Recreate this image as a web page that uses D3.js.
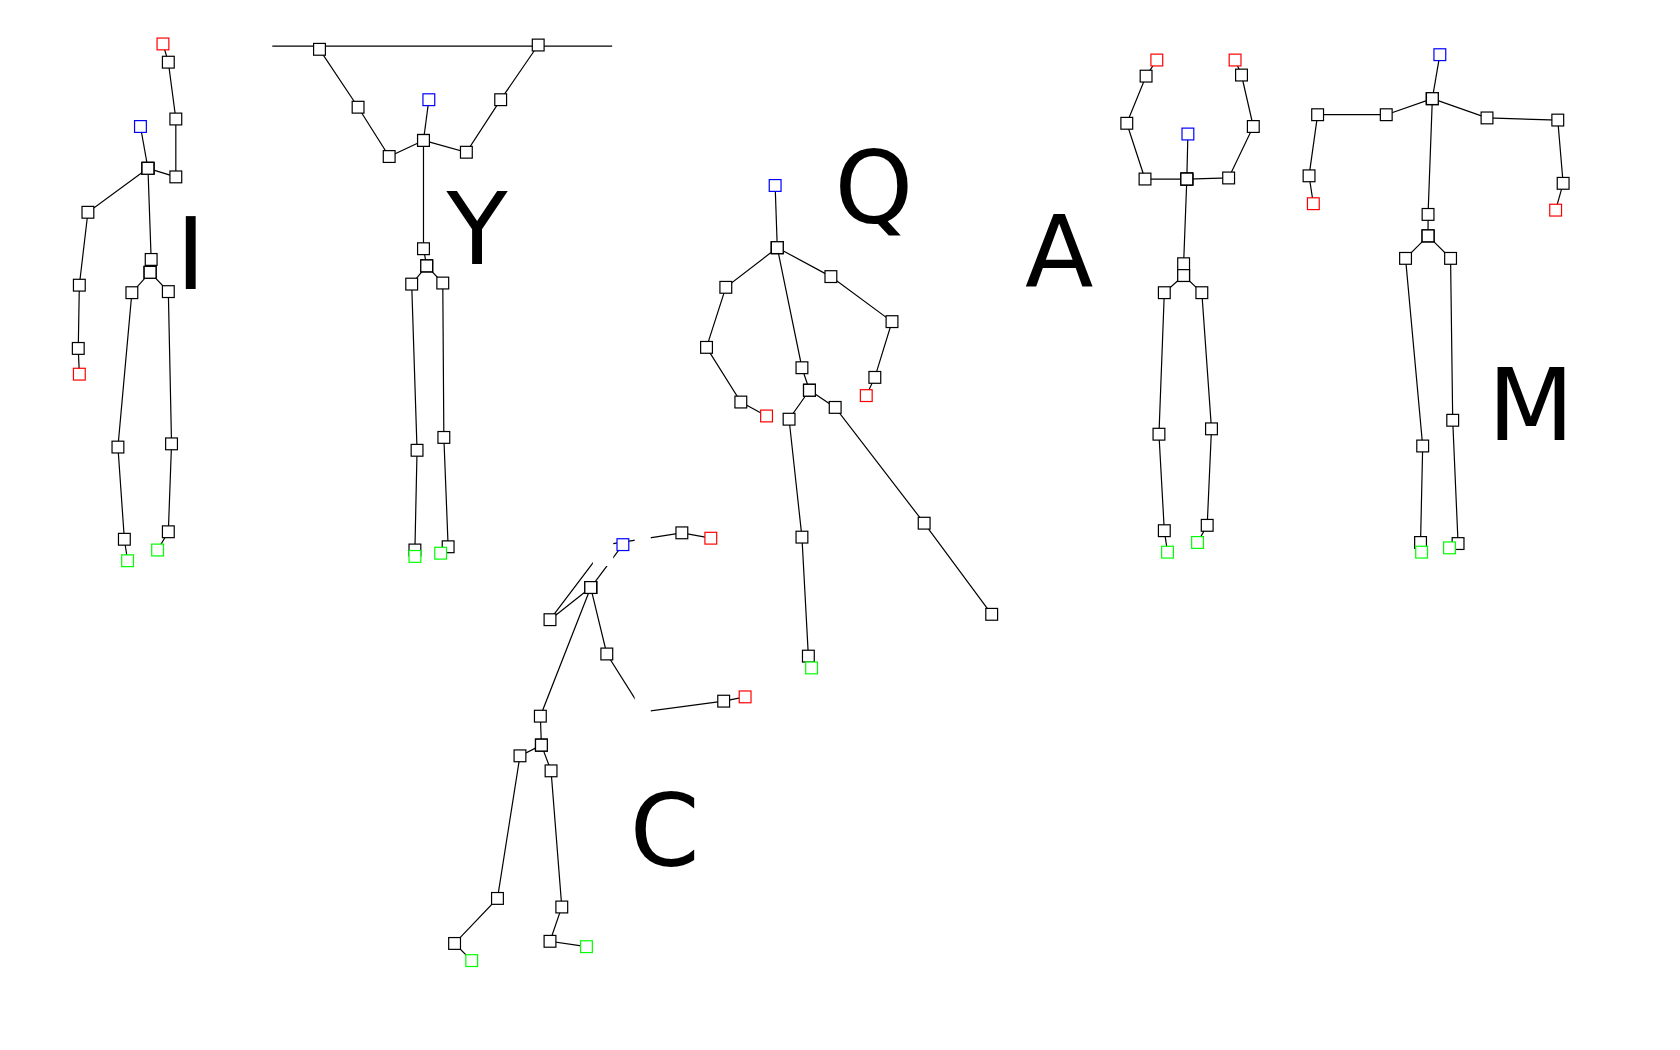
<!DOCTYPE html>
<html>
<head>
<meta charset="utf-8">
<script src="https://cdn.jsdelivr.net/npm/d3@7"></script>
<style>
  html, body { margin: 0; padding: 0; background: #fff; }
  svg { display: block; }
</style>
</head>
<body>
<svg id="chart"></svg>
<script>
// joints in picture units: [x, y, kind]  h=head, r=hand, g=foot, n=joint, x=hidden
const figI = [
  [[131,118,"h"],[138,157,"n"]],
  [[138,157,"n"],[82,198,"n"],[74,266,"n"],[73,325,"n"],[74,349,"r"]],
  [[138,157,"n"],[164,165,"n"],[164,111,"n"],[157,58,"n"],[152,41,"r"]],
  [[138,157,"n"],[141,242,"n"],[140,254,"n"]],
  [[140,254,"n"],[123,273,"n"],[110,417,"n"],[116,503,"n"],[119,523,"g"]],
  [[140,254,"n"],[157,272,"n"],[160,414,"n"],[157,496,"n"],[147,513,"g"]]
];
const figY = [
  [[400,93,"h"],[395,131,"n"]],
  [[395,131,"n"],[363,146,"n"],[334,100,"n"],[298,46,"n"]],
  [[395,131,"n"],[435,142,"n"],[467,93,"n"],[502,42,"n"]],
  [[395,131,"n"],[395,232,"n"],[398,248,"n"]],
  [[398,248,"n"],[384,265,"n"],[389,420,"n"],[387,513,"n"],[387,519,"g"]],
  [[398,248,"n"],[413,264,"n"],[414,408,"n"],[418,510,"n"],[411,516,"g"]]
];
const figQ = [
  [[723,173,"h"],[725,231,"n"]],
  [[725,231,"n"],[677,268,"n"],[659,324,"n"],[691,375,"n"],[715,388,"r"]],
  [[725,231,"n"],[775,258,"n"],[832,300,"n"],[816,352,"n"],[808,369,"r"]],
  [[725,231,"n"],[748,343,"n"],[755,364,"n"]],
  [[755,364,"n"],[736,391,"n"],[748,501,"n"],[754,612,"n"],[757,623,"g"]],
  [[755,364,"n"],[779,380,"n"],[862,488,"n"],[925,573,"n"]]
];
const figA = [
  [[1108,125,"h"],[1107,167,"n"]],
  [[1107,167,"n"],[1068,167,"n"],[1051,115,"n"],[1069,71,"n"],[1079,56,"r"]],
  [[1107,167,"n"],[1146,166,"n"],[1169,118,"n"],[1158,70,"n"],[1152,56,"r"]],
  [[1107,167,"n"],[1104,246,"n"],[1104,257,"n"]],
  [[1104,257,"n"],[1086,273,"n"],[1081,405,"n"],[1086,495,"n"],[1089,515,"g"]],
  [[1104,257,"n"],[1121,273,"n"],[1130,400,"n"],[1126,490,"n"],[1117,506,"g"]]
];
const figM = [
  [[1343,51,"h"],[1336,92,"n"]],
  [[1336,92,"n"],[1293,107,"n"],[1229,107,"n"],[1221,164,"n"],[1225,190,"r"]],
  [[1336,92,"n"],[1387,110,"n"],[1453,112,"n"],[1458,171,"n"],[1451,196,"r"]],
  [[1336,92,"n"],[1332,200,"n"],[1332,220,"n"]],
  [[1332,220,"n"],[1311,241,"n"],[1327,416,"n"],[1325,506,"n"],[1326,515,"g"]],
  [[1332,220,"n"],[1353,241,"n"],[1355,392,"n"],[1360,507,"n"],[1352,511,"g"]]
];
const figC = [
  [[581,508,"h"],[551,548,"n"]],
  [[551,548,"n"],[513,578,"n"],[566,508,"x"],[636,497,"n"],[663,502,"r"]],
  [[551,548,"n"],[566,610,"n"],[600,664,"x"],[675,654,"n"],[695,650,"r"]],
  [[551,548,"n"],[504,668,"n"],[505,695,"n"]],
  [[505,695,"n"],[485,705,"n"],[464,838,"n"],[424,880,"n"],[440,896,"g"]],
  [[505,695,"n"],[514,719,"n"],[524,846,"n"],[513,878,"n"],[547,883,"g"]]
];
const figures = [figI, figY, figQ, figA, figM, figC];
// regions where the lines of C are hidden: [x0, y0, x1, y1]
const occluders = [[553,480,572,528],[592,480,607,528],[592,648,607,676]];
const bar = [[254,43],[571,43]];
const letters = ["I","Y","Q","A","M","C"];
const letterPos = [[178,270],[445,246],[815,208],[988,268],[1428,410],[620,808]];
const kindColor = { h: "#0000ff", r: "#ff0000", g: "#00ff00", n: "#000" };

const width = 1680, height = 1050;
const span = 1567;
const k = width / span;
const x = d3.scaleLinear().domain([0, span]).range([0, width]);
const y = d3.scaleLinear().domain([0, span * height / width]).range([0, height]);

const svg = d3.select("#chart").attr("width", width).attr("height", height);

const mask = svg.append("defs").append("mask").attr("id", "occ")
  .attr("maskUnits", "userSpaceOnUse")
  .attr("x", 0).attr("y", 0).attr("width", width).attr("height", height);
mask.append("rect").attr("width", width).attr("height", height).attr("fill", "#fff");
mask.selectAll("rect.o").data(occluders).join("rect").attr("class", "o")
  .attr("x", d => x(d[0])).attr("y", d => y(d[1]))
  .attr("width", d => x(d[2]) - x(d[0])).attr("height", d => y(d[3]) - y(d[1]))
  .attr("fill", "#000");

const line = d3.line().x(d => x(d[0])).y(d => y(d[1]));

svg.append("path").attr("d", line(bar)).attr("stroke", "#000")
  .attr("stroke-width", 1.3).attr("fill", "none");

const sq = 11 * k;
figures.forEach((fig, i) => {
  const g = svg.append("g");
  g.append("g").attr("mask", i === 5 ? "url(#occ)" : null)
    .selectAll("path").data(fig).join("path")
    .attr("d", line).attr("fill", "none")
    .attr("stroke", "#000").attr("stroke-width", 1.2);
  const joints = fig.flat().filter(d => d[2] !== "x");
  g.selectAll("rect").data(joints).join("rect")
    .attr("x", d => x(d[0]) - sq / 2).attr("y", d => y(d[1]) - sq / 2)
    .attr("width", sq).attr("height", sq)
    .attr("fill", "#fff").attr("stroke", d => kindColor[d[2]])
    .attr("stroke-width", 1.2);
});

svg.selectAll("text.letter").data(letters).join("text").attr("class", "letter")
  .attr("x", (d, i) => x(letterPos[i][0])).attr("y", (d, i) => y(letterPos[i][1]))
  .attr("text-anchor", "middle")
  .attr("font-family", "DejaVu Sans")
  .attr("font-size", 100)
  .text(d => d);
</script>
</body>
</html>
